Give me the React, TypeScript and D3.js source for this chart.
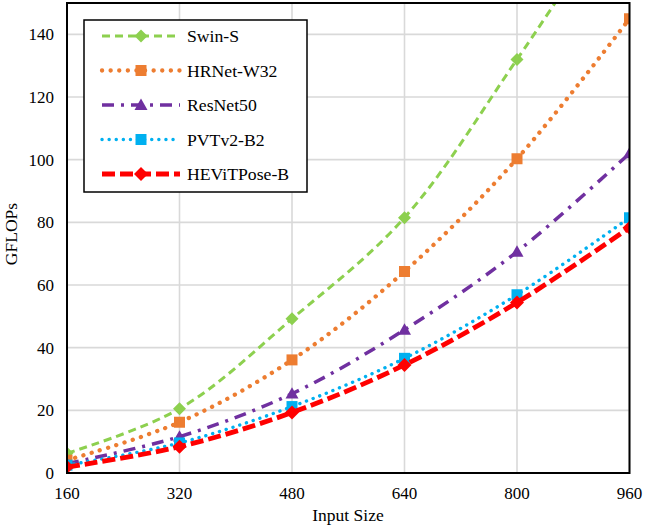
import React from "react";
import * as d3 from "d3";

// Input resolutions (x axis)
const inputSizes = [160, 320, 480, 640, 800, 960];
const xTicks = [160, 320, 480, 640, 800, 960];
const yTicks = [0, 20, 40, 60, 80, 100, 120, 140];

// GFLOPs per model at each input size
const swinS = [6.3, 20.5, 49.2, 81.5, 132, 186];
const hrnetW32 = [4.1, 16.2, 36.1, 64.3, 100.3, 145];
const resnet50 = [3.0, 11.6, 25.3, 45.7, 70.6, 102];
const pvtv2B2 = [2.5, 9.6, 21.2, 36.6, 56.9, 81.5];
const hevitposeB = [1.9, 8.4, 19.3, 34.5, 54.4, 78.3];

const seriesNames = ["Swin-S", "HRNet-W32", "ResNet50", "PVTv2-B2", "HEViTPose-B"];

type Style = {
  color: string;
  width: number;
  dash: string;
  cap: "butt" | "round";
  marker: "diamond" | "square" | "triangle";
  size: number;
};

const styles: Style[] = [
  { color: "#8dd04f", width: 3, dash: "8 5", cap: "butt", marker: "diamond", size: 13 },
  { color: "#ed7d31", width: 4.3, dash: "0.1 8.5", cap: "round", marker: "square", size: 11 },
  { color: "#7030a0", width: 3.5, dash: "12 7 3 7", cap: "butt", marker: "triangle", size: 13 },
  { color: "#00b0f0", width: 3.4, dash: "0.1 7", cap: "round", marker: "square", size: 11 },
  { color: "#ff0000", width: 4.8, dash: "13 5", cap: "butt", marker: "diamond", size: 14 },
];

const seriesValues = [swinS, hrnetW32, resnet50, pvtv2B2, hevitposeB];

const W = 645;
const H = 527;
const plot = { left: 67, right: 629.5, top: 3, bottom: 473 };
const FONT = "'Liberation Serif', 'Times New Roman', serif";

function markerPath(kind: Style["marker"], s: number): string {
  const h = s / 2;
  if (kind === "diamond") return `M0,${-h}L${h},0L0,${h}L${-h},0Z`;
  if (kind === "square") return `M${-h},${-h}H${h}V${h}H${-h}Z`;
  return `M0,${-h * 1.0}L${h},${h * 0.75}L${-h},${h * 0.75}Z`;
}

export default function App() {
  const x = d3.scaleLinear().domain([160, 960]).range([plot.left, plot.right]);
  const y = d3.scaleLinear().domain([0, 150]).range([plot.bottom, plot.top]);

  const line = d3
    .line<[number, number]>()
    .x((d) => x(d[0]))
    .y((d) => y(d[1]))
    .curve(d3.curveCatmullRom.alpha(0.5));

  const legend = { x: 84, y: 20, w: 223, h: 172, rowY0: 36, rowStep: 34.5 };

  return (
    <svg
      width={W}
      height={H}
      style={{ position: "absolute", left: 0, top: 0, background: "#fff" }}
      fontFamily={FONT}
    >
      <defs>
        <clipPath id="plotClip">
          <rect x={plot.left} y={plot.top} width={plot.right - plot.left} height={plot.bottom - plot.top} />
        </clipPath>
      </defs>

      {/* grid */}
      <g stroke="#d9d9d9" strokeWidth={1.6}>
        {yTicks.map((t) => (
          <line key={"gy" + t} x1={plot.left} x2={plot.right} y1={y(t)} y2={y(t)} />
        ))}
        {xTicks.map((t) => (
          <line key={"gx" + t} x1={x(t)} x2={x(t)} y1={plot.top} y2={plot.bottom} />
        ))}
      </g>

      {/* series */}
      <g clipPath="url(#plotClip)">
        {seriesValues.map((vals, i) => {
          const st = styles[i];
          const pts = inputSizes.map((s, j) => [s, vals[j]] as [number, number]);
          return (
            <g key={seriesNames[i]}>
              <path
                d={line(pts) || ""}
                fill="none"
                stroke={st.color}
                strokeWidth={st.width}
                strokeDasharray={st.dash}
                strokeLinecap={st.cap}
              />
              {pts.map((p, j) => (
                <path
                  key={j}
                  d={markerPath(st.marker, st.size)}
                  transform={`translate(${x(p[0])},${y(p[1])})`}
                  fill={st.color}
                />
              ))}
            </g>
          );
        })}
      </g>

      {/* plot frame */}
      <rect
        x={plot.left}
        y={plot.top}
        width={plot.right - plot.left}
        height={plot.bottom - plot.top}
        fill="none"
        stroke="#000"
        strokeWidth={2}
      />

      {/* y tick labels */}
      <g fontSize={17} textAnchor="end" fill="#000">
        {yTicks.map((t) => (
          <text key={"ty" + t} x={54} y={y(t)} dy="0.35em">
            {t}
          </text>
        ))}
      </g>

      {/* x tick labels */}
      <g fontSize={17} textAnchor="middle" fill="#000">
        {xTicks.map((t) => (
          <text key={"tx" + t} x={x(t)} y={499}>
            {t}
          </text>
        ))}
      </g>

      {/* axis titles */}
      <text x={348} y={521} fontSize={17.5} textAnchor="middle">
        Input Size
      </text>
      <text
        transform={`translate(17,234) rotate(-90)`}
        fontSize={17.5}
        textAnchor="middle"
      >
        GFLOPs
      </text>

      {/* legend */}
      <rect
        x={legend.x}
        y={legend.y}
        width={legend.w}
        height={legend.h}
        fill="#fff"
        stroke="#000"
        strokeWidth={1.5}
      />
      {seriesNames.map((name, i) => {
        const st = styles[i];
        const ry = legend.rowY0 + i * legend.rowStep;
        return (
          <g key={"lg" + name}>
            <line
              x1={102}
              x2={180}
              y1={ry}
              y2={ry}
              stroke={st.color}
              strokeWidth={st.width}
              strokeDasharray={st.dash}
              strokeLinecap={st.cap}
            />
            <path d={markerPath(st.marker, st.size)} transform={`translate(141,${ry})`} fill={st.color} />
            <text x={187} y={ry} dy="0.35em" fontSize={17.7}>
              {name}
            </text>
          </g>
        );
      })}
    </svg>
  );
}
